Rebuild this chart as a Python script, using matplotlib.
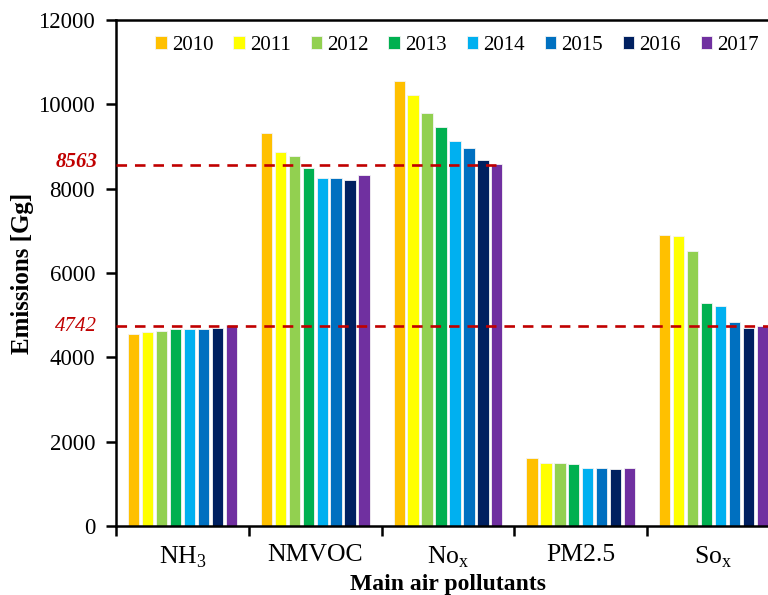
import numpy as np
import matplotlib
matplotlib.use('Agg')
import matplotlib.pyplot as plt

plt.rcParams['font.family'] = 'Liberation Serif'
plt.rcParams['mathtext.fontset'] = 'custom'
plt.rcParams['mathtext.rm'] = 'Liberation Serif'
plt.rcParams['font.size'] = 16

pollutants = ['NH$_\\mathregular{3}$', 'NMVOC', 'No$_\\mathregular{x}$', 'PM2.5', 'So$_\\mathregular{x}$']
years = ['2010', '2011', '2012', '2013', '2014', '2015', '2016', '2017']
colors = ['#FFC000', '#FFFF00', '#92D050', '#00B050', '#00B0F0', '#0070C0', '#002060', '#7030A0']

# emissions per year, order: NH3, NMVOC, NOx, PM2.5, SOx
em_2010 = [4560, 9330, 10560, 1620, 6900]
em_2011 = [4600, 8860, 10230, 1500, 6870]
em_2012 = [4630, 8770, 9800, 1500, 6520]
em_2013 = [4670, 8480, 9470, 1460, 5280]
em_2014 = [4670, 8260, 9130, 1365, 5210]
em_2015 = [4670, 8260, 8960, 1365, 4830]
em_2016 = [4700, 8210, 8670, 1350, 4700]
em_2017 = [4775, 8320, 8590, 1365, 4750]
all_years = [em_2010, em_2011, em_2012, em_2013, em_2014, em_2015, em_2016, em_2017]

avg_high = 8563
avg_low = 4742

fig = plt.figure(figsize=(7.68, 5.95), dpi=100)
ax = fig.add_axes([116/768, 69/595, 664/768, 506/595])

x = np.arange(len(pollutants))
step = 0.105
width = 0.085
for i, vals in enumerate(all_years):
    ax.bar(x + (i - 3.5) * step, vals, width, color=colors[i],
           edgecolor='#f4f4f4', linewidth=0.6, label=years[i], zorder=2)

ax.plot([-0.5, 2.4], [avg_high, avg_high], ls=(0, (4, 3)), color='#C00000', lw=1.9, zorder=3)
ax.plot([-0.5, 4.5], [avg_low, avg_low], ls=(0, (4, 3)), color='#C00000', lw=1.9, zorder=3)
ax.text(-0.64, avg_high + 80, str(avg_high), color='#C00000', fontsize=15,
        style='italic', weight='bold', ha='right', va='center')
ax.text(-0.64, avg_low - 20, str(avg_low), color='#C00000', fontsize=15,
        style='italic', ha='right', va='center')

ax.set_xlim(-0.5, 4.5)
ax.set_ylim(0, 12000)
ax.set_yticks(np.arange(0, 12001, 2000))
ax.set_xticks(np.arange(-0.5, 4.6, 1))
ax.set_xticklabels([])
ax.set_xticks(x, minor=True)
ax.set_xticklabels(pollutants, minor=True)
ax.tick_params(axis='x', which='minor', length=0, pad=13, labelsize=18.5)
ax.tick_params(axis='x', which='major', length=7, width=1.8, direction='out')
ax.tick_params(axis='y', length=7, width=1.8, direction='out', labelsize=16.5, pad=8)

for s in ['left', 'bottom', 'top']:
    ax.spines[s].set_linewidth(1.8)
ax.spines['right'].set_visible(False)

ax.set_xlabel('Main air pollutants', fontweight='bold', fontsize=17, labelpad=3)
ax.set_ylabel('Emissions [Gg]', fontweight='bold', fontsize=18, labelpad=3)

ax.legend(loc='upper left', bbox_to_anchor=(0.031, 1.006), ncol=8, frameon=False,
          handlelength=0.55, handleheight=0.55, handletextpad=0.25, columnspacing=0.95,
          fontsize=15)

plt.savefig('out.png', dpi=100)
